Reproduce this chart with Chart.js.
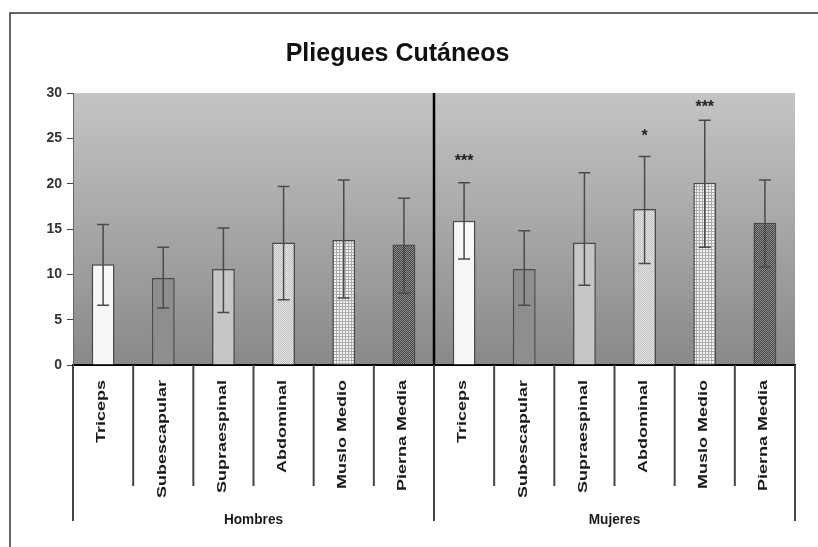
<!DOCTYPE html>
<html>
<head>
<meta charset="utf-8">
<title>Pliegues Cutáneos</title>
<script src="https://cdn.jsdelivr.net/npm/chart.js@4.4.0/dist/chart.umd.min.js"></script>
<style>
  html, body { margin: 0; padding: 0; background: #fff; }
  #wrap { width: 818px; height: 547px; position: relative; }
</style>
</head>
<body>
<div id="wrap"><canvas id="pliegues"></canvas></div>
<script>
const sites = ['Triceps', 'Subescapular', 'Supraespinal', 'Abdominal', 'Muslo Medio', 'Pierna Media'];
const groups = ['Hombres', 'Mujeres'];
// mean skinfold (mm), Hombres first then Mujeres
const means = [11.1, 9.6, 10.6, 13.5, 13.8, 13.3, 15.9, 10.6, 13.5, 17.2, 20.1, 15.7];
const upper = [15.5, 13.0, 15.1, 19.7, 20.4, 18.4, 20.1, 14.8, 21.2, 23.0, 27.0, 20.4];
const lower = [6.6, 6.3, 5.8, 7.2, 7.4, 7.9, 11.7, 6.6, 8.8, 11.2, 13.0, 10.8];
const stars = ['', '', '', '', '', '', '***', '', '', '*', '***', ''];
const starAt = [0, 0, 0, 0, 0, 0, 22.9, 0, 0, 25.6, 28.8, 0];
const yMin = 0, yMax = 30, yStep = 5;

const FONT = '"Liberation Sans", Arial, sans-serif';
const labels = groups.flatMap(() => sites);

function checker(base, dot) {
  const c = document.createElement('canvas');
  c.width = 2; c.height = 2;
  const g = c.getContext('2d');
  g.fillStyle = base; g.fillRect(0, 0, 2, 2);
  g.fillStyle = dot; g.fillRect(0, 0, 1, 1); g.fillRect(1, 1, 1, 1);
  return g.createPattern(c, 'repeat');
}

function grid(base, line) {
  const c = document.createElement('canvas');
  c.width = 3; c.height = 3;
  const g = c.getContext('2d');
  g.fillStyle = base; g.fillRect(0, 0, 3, 3);
  g.fillStyle = line; g.fillRect(0, 0, 3, 1); g.fillRect(0, 0, 1, 3);
  return g.createPattern(c, 'repeat');
}

const siteFills = [
  '#f7f7f7',
  '#8e8e8e',
  '#c6c6c6',
  checker('#e8e8e8', '#bdbdbd'),
  grid('#f4f4f4', '#ababab'),
  checker('#444444', '#8e8e8e')
];
const fills = groups.flatMap(() => siteFills);

const decorations = {
  id: 'decorations',
  beforeDraw(chart) {
    const { ctx, chartArea: a } = chart;
    ctx.save();
    ctx.fillStyle = '#fff';
    ctx.fillRect(0, 0, chart.width, chart.height);
    // outer frame (top and left visible)
    ctx.strokeStyle = '#333';
    ctx.lineWidth = 1.5;
    ctx.beginPath();
    ctx.moveTo(10, chart.height);
    ctx.lineTo(10, 13);
    ctx.lineTo(chart.width, 13);
    ctx.stroke();
    // plot area gradient
    const grad = ctx.createLinearGradient(0, a.top, 0, a.bottom);
    grad.addColorStop(0, '#c4c4c4');
    grad.addColorStop(1, '#898989');
    ctx.fillStyle = grad;
    ctx.fillRect(a.left, a.top, a.right - a.left, a.bottom - a.top);
    ctx.restore();
  },
  afterDatasetsDraw(chart) {
    const { ctx, chartArea: a, scales: { x, y } } = chart;
    const meta = chart.getDatasetMeta(0);
    ctx.save();

    // error bars
    ctx.strokeStyle = '#4a4a4a';
    ctx.lineWidth = 1.5;
    meta.data.forEach((bar, i) => {
      const yu = y.getPixelForValue(upper[i]);
      const yl = y.getPixelForValue(lower[i]);
      ctx.beginPath();
      ctx.moveTo(bar.x, yu); ctx.lineTo(bar.x, yl);
      ctx.moveTo(bar.x - 6, yu); ctx.lineTo(bar.x + 6, yu);
      ctx.moveTo(bar.x - 6, yl); ctx.lineTo(bar.x + 6, yl);
      ctx.stroke();
    });

    // significance marks
    ctx.fillStyle = '#222';
    ctx.font = 'bold 16px ' + FONT;
    ctx.textAlign = 'center';
    ctx.textBaseline = 'middle';
    meta.data.forEach((bar, i) => {
      if (stars[i]) ctx.fillText(stars[i], bar.x, y.getPixelForValue(starAt[i]) + 4);
    });

    // separators under the axis
    const n = labels.length;
    const catW = (a.right - a.left) / n;
    ctx.strokeStyle = '#444';
    ctx.lineWidth = 2;
    for (let i = 0; i <= n; i++) {
      const xx = a.left + i * catW;
      const outer = i % sites.length === 0;
      ctx.beginPath();
      ctx.moveTo(xx, a.bottom);
      ctx.lineTo(xx, outer ? a.bottom + 156 : a.bottom + 121);
      ctx.stroke();
    }

    // divider between groups
    const xd = (x.getPixelForValue(sites.length - 1) + x.getPixelForValue(sites.length)) / 2;
    ctx.strokeStyle = '#000';
    ctx.lineWidth = 2.5;
    ctx.beginPath();
    ctx.moveTo(xd, a.top);
    ctx.lineTo(xd, a.bottom);
    ctx.stroke();

    // rotated category labels
    ctx.fillStyle = '#1a1a1a';
    ctx.font = 'bold 12px ' + FONT;
    ctx.textAlign = 'right';
    ctx.textBaseline = 'middle';
    labels.forEach((lab, i) => {
      ctx.save();
      ctx.translate(x.getPixelForValue(i) - 1, a.bottom + 15);
      ctx.rotate(-Math.PI / 2);
      ctx.scale(1.5, 1);
      ctx.fillText(lab, 0, 0);
      ctx.restore();
    });

    // group labels
    ctx.font = 'bold 13px ' + FONT;
    ctx.textAlign = 'center';
    groups.forEach((g, k) => {
      const x0 = a.left + k * sites.length * catW;
      ctx.save();
      ctx.translate(x0 + sites.length * catW / 2, a.bottom + 155);
      ctx.scale(1.05, 1.1);
      ctx.fillText(g, 0, 0);
      ctx.restore();
    });

    ctx.restore();
  }
};

new Chart(document.getElementById('pliegues'), {
  type: 'bar',
  data: {
    labels: labels,
    datasets: [{
      data: means,
      backgroundColor: fills,
      borderColor: '#4a4a4a',
      borderWidth: 1.5,
      borderSkipped: 'bottom',
      barPercentage: 0.38,
      categoryPercentage: 1
    }]
  },
  options: {
    responsive: true,
    maintainAspectRatio: false,
    animation: false,
    layout: { padding: { left: 0, right: 23, top: 0, bottom: 0 } },
    plugins: {
      legend: { display: false },
      tooltip: { enabled: false },
      title: {
        display: true,
        text: 'Pliegues Cutáneos',
        color: '#111',
        font: { family: FONT, size: 25, weight: 'bold' },
        padding: { top: 39, bottom: 24 }
      }
    },
    scales: {
      x: {
        grid: { display: false },
        ticks: { display: false },
        border: { color: '#000', width: 2 },
        afterFit: s => { s.height = 182; }
      },
      y: {
        min: yMin,
        max: yMax,
        ticks: {
          stepSize: yStep,
          color: '#333',
          padding: 5,
          font: { family: FONT, size: 14, weight: 'bold' }
        },
        grid: { drawOnChartArea: false, tickLength: 6, color: '#444' },
        border: { color: '#666', width: 1 },
        afterFit: s => { s.width = 73; }
      }
    }
  },
  plugins: [decorations]
});
</script>
</body>
</html>
